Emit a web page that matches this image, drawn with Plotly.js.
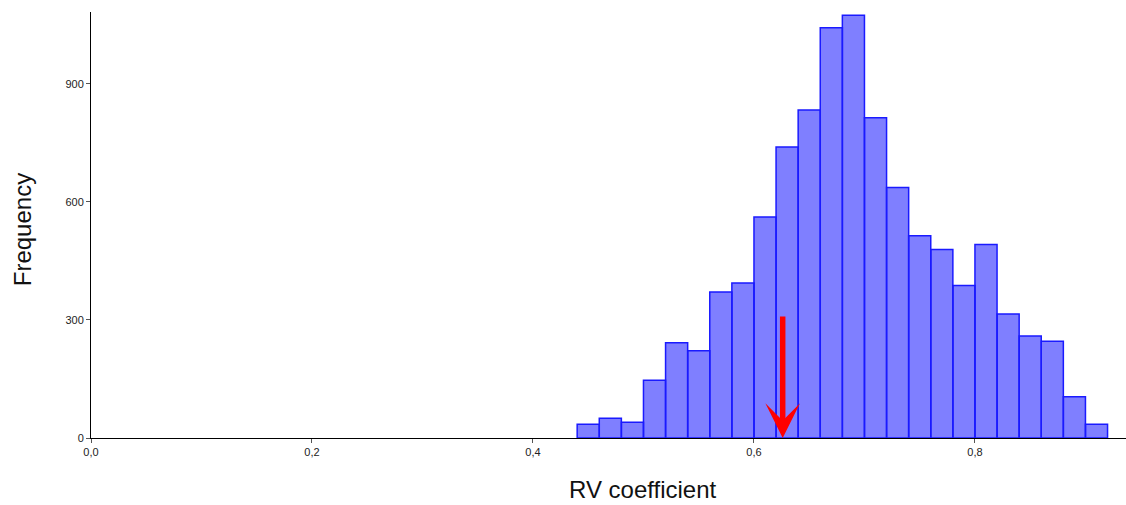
<!DOCTYPE html>
<html>
<head>
<meta charset="utf-8">
<script src="https://cdn.plot.ly/plotly-3.0.1.min.js"></script>
<style>html,body{margin:0;padding:0;background:#fff;overflow:hidden;}#chart{width:1126px;height:505px;}</style>
</head>
<body>
<div id="chart"></div>
<script>
// Histogram bins (left edges) and counts
const binStarts = [0.44,0.46,0.48,0.50,0.52,0.54,0.56,0.58,0.60,0.62,0.64,0.66,0.68,0.70,0.72,0.74,0.76,0.78,0.80,0.82,0.84,0.86,0.88,0.90];
const binWidth = 0.02;
const counts = [35,50,40,147,242,222,371,394,562,740,834,1043,1075,814,637,514,479,388,492,315,259,246,105,35];
// Observed RV coefficient marker (arrow)
const observedRV = 0.626;
const arrowTopValue = 313;
const xTicks = [0.0,0.2,0.4,0.6,0.8];
const yTicks = [0,300,600,900];
const xTitle = 'RV coefficient';
const yTitle = 'Frequency';

const centers = binStarts.map(b => b + binWidth/2);
const FONT = 'Liberation Sans, Arial, sans-serif';

const trace = {
  type: 'bar',
  x: centers,
  y: counts,
  width: binStarts.map(() => binWidth),
  marker: {color: 'rgba(0,0,255,0.5)', line: {color: '#1a1aff', width: 1.5}},
  hoverinfo: 'x+y'
};

const layout = {
  width: 1126, height: 505,
  margin: {l: 91, r: 0, t: 12, b: 67},
  paper_bgcolor: '#fff', plot_bgcolor: '#fff',
  separators: ', ',
  showlegend: false,
  bargap: 0,
  xaxis: {
    range: [0, 0.9367],
    tickvals: xTicks,
    tickformat: '.1f',
    ticks: 'outside', ticklen: 4, tickcolor: '#555',
    showline: true, linecolor: '#000', linewidth: 1,
    showgrid: false, zeroline: false,
    tickfont: {family: FONT, size: 11, color: '#222'}
  },
  yaxis: {
    range: [0, 1083],
    tickvals: yTicks,
    ticks: 'outside', ticklen: 4, tickcolor: '#555',
    showline: true, linecolor: '#000', linewidth: 1,
    showgrid: false, zeroline: false,
    tickfont: {family: FONT, size: 11, color: '#222'}
  },
  annotations: [
    {
      x: observedRV, y: 0, xref: 'x', yref: 'y',
      ax: observedRV, ay: arrowTopValue, axref: 'x', ayref: 'y',
      showarrow: true, arrowhead: 3, arrowsize: 1.05, arrowwidth: 5.5, arrowcolor: '#ff0000',
      text: ''
    },
    {
      text: xTitle, xref: 'paper', yref: 'paper', x: 0.533, y: -0.122,
      xanchor: 'center', yanchor: 'middle', showarrow: false,
      font: {family: FONT, size: 24, color: '#111'}
    },
    {
      text: yTitle, xref: 'paper', yref: 'paper', x: -0.0667, y: 0.49,
      xanchor: 'center', yanchor: 'middle', showarrow: false, textangle: -90,
      font: {family: FONT, size: 24, color: '#111'}
    }
  ]
};

Plotly.newPlot('chart', [trace], layout, {displayModeBar: false, staticPlot: true});
</script>
</body>
</html>
